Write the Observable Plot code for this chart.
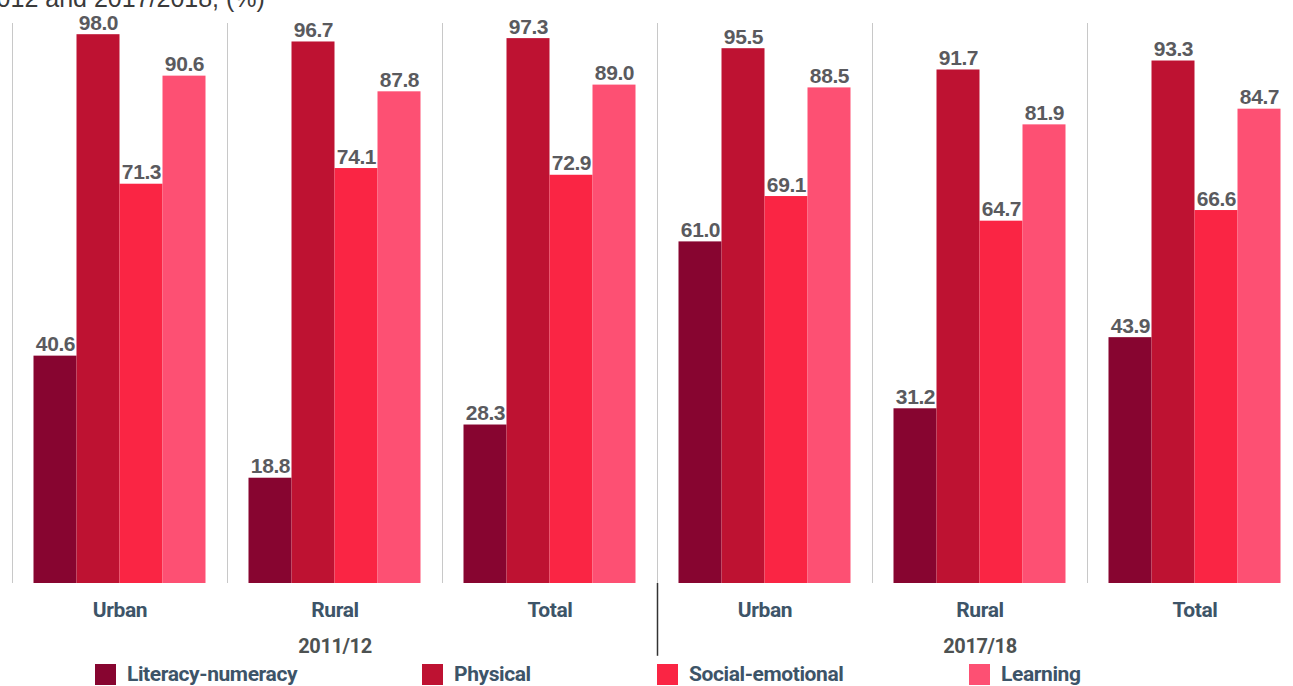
<!DOCTYPE html>
<html>
<head>
<meta charset="utf-8">
<script src="https://cdn.jsdelivr.net/npm/d3@7"></script>
<script src="https://cdn.jsdelivr.net/npm/@observablehq/plot@0.6"></script>
<style>
  html, body { margin: 0; padding: 0; background: #fff; overflow: hidden; }
  #wrap { position: relative; width: 1293px; height: 686px; overflow: hidden; }
  #title { position: absolute; left: -78px; top: -14px; font-family: "Liberation Sans", Arial, sans-serif; font-size: 25px; line-height: 25px; color: #3a3a3a; white-space: nowrap; z-index: 2; }
  #chart { position: absolute; left: 0; top: 0; }
  #chart svg { max-width: none !important; }
  #legend { position: absolute; left: 0; top: 664px; width: 1293px; height: 30px; font-family: Roboto, "Liberation Sans", sans-serif; font-weight: bold; font-size: 21px; letter-spacing: -0.4px; color: #3d5468; }
  .item { position: absolute; top: 0; white-space: nowrap; }
  .sw { position: absolute; left: 0; top: 0; width: 21px; height: 21px; }
  .lab { position: absolute; left: 32px; top: -2px; line-height: 24px; }
</style>
</head>
<body>
<div id="wrap">
  <div id="title">2011/2012 and 2017/2018, (%)</div>
  <div id="chart"></div>
  <div id="legend"></div>
</div>
<script>
const years = ["2011/12", "2017/18"];
const areas = ["Urban", "Rural", "Total"];
const indicators = ["Literacy-numeracy", "Physical", "Social-emotional", "Learning"];
// values per panel in order: 2011/12 Urban, Rural, Total, 2017/18 Urban, Rural, Total
const literacyNumeracy = [40.6, 18.8, 28.3, 61.0, 31.2, 43.9];
const physical        = [98.0, 96.7, 97.3, 95.5, 91.7, 93.3];
const socialEmotional = [71.3, 74.1, 72.9, 69.1, 64.7, 66.6];
const learning        = [90.6, 87.8, 89.0, 88.5, 81.9, 84.7];
const colors = ["#870530", "#be1232", "#fa2544", "#fd5073"];

const series = [literacyNumeracy, physical, socialEmotional, learning];
const groups = [];
years.forEach(y => areas.forEach(a => groups.push(y + "|" + a)));

const data = [];
groups.forEach((g, gi) => {
  indicators.forEach((ind, ii) => {
    data.push({group: g, indicator: ind, idx: ii, value: series[ii][gi]});
  });
});

const W = 1303, H = 660;
const chart = Plot.plot({
  width: W,
  height: H,
  marginLeft: 10,
  marginRight: 0,
  marginTop: 23,
  marginBottom: 77,
  style: {
    fontFamily: 'Roboto, "Liberation Sans", sans-serif',
    fontWeight: "bold",
    fontSize: "21px",
    letterSpacing: "-0.4px",
    color: "#3d5468",
    background: "transparent",
    overflow: "visible",
    maxWidth: "none"
  },
  fx: {
    domain: groups,
    padding: 0,
    label: null,
    axis: "bottom",
    tickSize: 0,
    tickPadding: 19,
    tickFormat: d => d.split("|")[1]
  },
  x: {domain: [0, indicators.length + 1], axis: null},
  y: {domain: [0, 100], axis: null},
  color: {domain: indicators, range: colors},
  marks: [
    Plot.ruleX([0], {stroke: "#c8c8c8", strokeWidth: 1}),
    Plot.rectY(data, {
      fx: "group",
      x1: d => d.idx + 0.5,
      x2: d => d.idx + 1.5,
      y: "value",
      fill: "indicator"
    }),
    Plot.text(data, {
      fx: "group",
      x: d => d.idx + 1,
      y: "value",
      text: d => d.value.toFixed(1),
      lineAnchor: "bottom",
      dy: -5,
      fill: "#5a5a5e",
      fontFamily: '"Liberation Sans", Arial, sans-serif',
      fontWeight: "bold",
      fontSize: 21
    }),
    Plot.ruleX([years[1] + "|" + areas[0]], {
      fx: d => d,
      x: () => 0,
      y1: () => 0,
      y2: () => -13,
      stroke: "#333",
      strokeWidth: 1.5
    }),
    Plot.text(years, {
      fx: d => d + "|" + areas[1],
      x: () => (indicators.length + 1) / 2,
      y: () => 0,
      dy: 63,
      text: d => d,
      fill: "#4d5252",
      fontSize: 20
    })
  ]
});
document.getElementById("chart").appendChild(chart);

const legendLeft = [95, 422, 657, 969];
const legend = document.getElementById("legend");
indicators.forEach((ind, i) => {
  const item = document.createElement("div");
  item.className = "item";
  item.style.left = legendLeft[i] + "px";
  const sw = document.createElement("div");
  sw.className = "sw";
  sw.style.background = colors[i];
  const lab = document.createElement("div");
  lab.className = "lab";
  lab.textContent = ind;
  item.appendChild(sw);
  item.appendChild(lab);
  legend.appendChild(item);
});
</script>
</body>
</html>
